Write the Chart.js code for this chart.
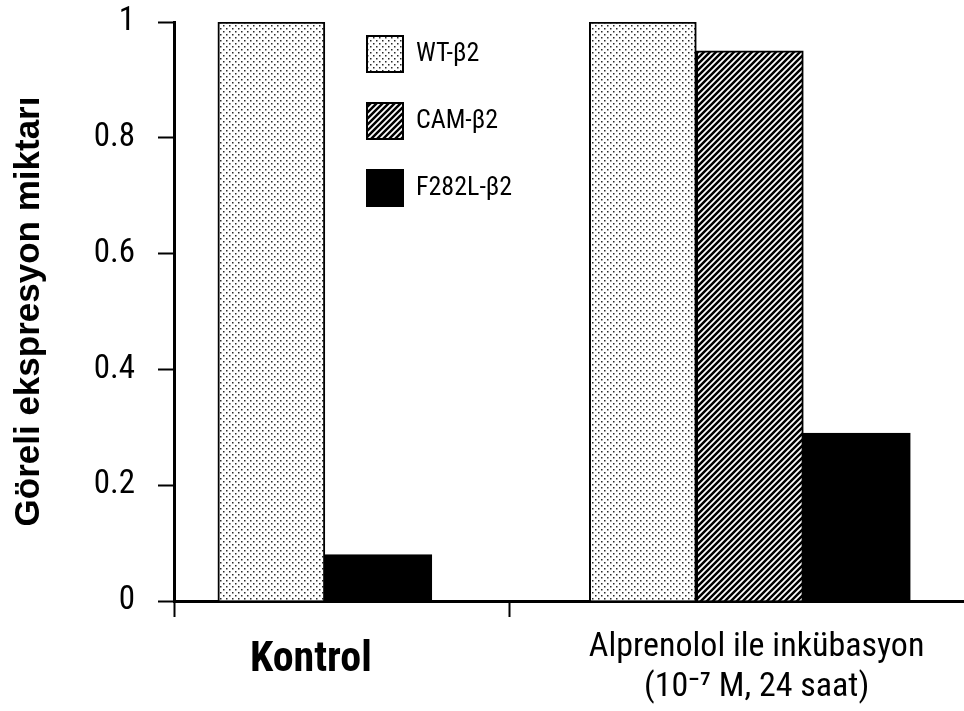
<!DOCTYPE html>
<html lang="tr">
<head>
    <meta charset="UTF-8">
    <title>Göreli ekspresyon miktarı</title>
    <style>
        html, body {
            margin: 0;
            padding: 0;
            background: #fff;
            overflow: hidden;
        }
    </style>
</head>
<body>
    <canvas id="expChart" width="964" height="711"></canvas>

    <script src="https://cdn.jsdelivr.net/npm/chart.js"></script>

    <script>
        // Groups on the x axis (second one is two lines)
        const groups = ['Kontrol', ['Alprenolol ile inkübasyon', '(10⁻⁷ M, 24 saat)']];

        // Relative expression, one value per group (null = no bar)
        const wtValues = [1, 1];
        const camValues = [null, 0.95];
        const f282lValues = [0.08, 0.29];

        const seriesNames = ['WT-β2', 'CAM-β2', 'F282L-β2'];
        const yTicks = [0, 0.2, 0.4, 0.6, 0.8, 1];

        const narrow = "'Roboto Condensed', 'Liberation Sans', sans-serif";
        const wide = "'Liberation Sans', Arial, sans-serif";

        // Fill patterns like the old Excel ones
        function dotPattern() {
            const c = document.createElement('canvas');
            c.width = 6; c.height = 6;
            const g = c.getContext('2d');
            g.fillStyle = '#fff';
            g.fillRect(0, 0, 6, 6);
            g.fillStyle = '#2a2a2a';
            g.fillRect(1, 1, 1.5, 1.5);
            g.fillRect(4, 4, 1.5, 1.5);
            return g.createPattern(c, 'repeat');
        }

        function stripePattern() {
            const c = document.createElement('canvas');
            c.width = 6; c.height = 6;
            const g = c.getContext('2d');
            g.fillStyle = '#fff';
            g.fillRect(0, 0, 6, 6);
            g.strokeStyle = '#000';
            g.lineWidth = 2.5;
            g.beginPath();
            g.moveTo(-1, 7); g.lineTo(7, -1);
            g.moveTo(-4, 4); g.lineTo(4, -4);
            g.moveTo(2, 10); g.lineTo(10, 2);
            g.stroke();
            return g.createPattern(c, 'repeat');
        }

        // group i sits at x = i on a linear axis
        function toPoints(vals) {
            return vals.map((v, i) => ({ x: i, y: v }));
        }

        // move the built-in legend into the empty space above the Kontrol group
        const legendSpot = {
            id: 'legendSpot',
            afterLayout(chart) {
                const lg = chart.legend;
                const area = chart.chartArea;
                const pad = lg.options.labels.padding;
                lg.left = area.left + 193 - pad;
                lg.top = area.top + 14 - pad;
            }
        };

        // x axis layout (groups at 0 and 1)
        const xMin = -0.355;
        const xMax = 1.504;
        const groupEdge = 0.435;
        const labelAt = [-0.033, 1.016];

        Chart.defaults.color = '#000';
        Chart.defaults.font.family = narrow;

        window.onload = function() {
            const ctx = document.getElementById('expChart').getContext('2d');
            new Chart(ctx, {
                type: 'bar',
                data: {
                    datasets: [{
                        label: seriesNames[0],
                        data: toPoints(wtValues),
                        backgroundColor: dotPattern(),
                        borderColor: '#000',
                        borderWidth: 2
                    }, {
                        label: seriesNames[1],
                        data: toPoints(camValues),
                        backgroundColor: stripePattern(),
                        borderColor: '#000',
                        borderWidth: 2
                    }, {
                        label: seriesNames[2],
                        data: toPoints(f282lValues),
                        backgroundColor: '#000',
                        borderColor: '#000',
                        borderWidth: 2
                    }]
                },
                plugins: [legendSpot],
                options: {
                    responsive: false,
                    animation: false,
                    devicePixelRatio: 1,
                    skipNull: true,
                    barThickness: 107,
                    layout: { padding: { top: 22, right: 0, bottom: 0, left: 0 } },
                    plugins: {
                        tooltip: { enabled: false },
                        legend: {
                            position: 'chartArea',
                            align: 'start',
                            labels: {
                                boxWidth: 36,
                                boxHeight: 36,
                                padding: 31,
                                color: '#000',
                                font: { family: narrow, size: 26 }
                            }
                        }
                    },
                    scales: {
                        x: {
                            type: 'linear',
                            offset: false,
                            min: xMin,
                            max: xMax,
                            afterBuildTicks(scale) {
                                scale.ticks = [xMin, labelAt[0], groupEdge, labelAt[1]].map(v => ({ value: v }));
                            },
                            afterFit(scale) {
                                scale.height = 110;
                            },
                            border: { color: '#000', width: 3 },
                            grid: {
                                offset: false,
                                drawOnChartArea: false,
                                tickLength: 16,
                                tickWidth: 2,
                                tickColor: c => (c.tick && labelAt.includes(c.tick.value)) ? 'rgba(0,0,0,0)' : '#000'
                            },
                            ticks: {
                                autoSkip: false,
                                maxRotation: 0,
                                minRotation: 0,
                                padding: 10,
                                color: '#000',
                                callback: v => v === labelAt[0] ? groups[0] : (v === labelAt[1] ? groups[1] : ''),
                                font: c => (c.tick && c.tick.value === labelAt[0])
                                    ? { family: narrow, size: 42, weight: 'bold', lineHeight: 1.6 }
                                    : { family: narrow, size: 34, lineHeight: 1.19 }
                            }
                        },
                        y: {
                            min: 0,
                            max: 1,
                            afterBuildTicks(scale) {
                                scale.ticks = yTicks.map(v => ({ value: v }));
                            },
                            afterFit(scale) {
                                scale.width = 174;
                                scale.paddingTop = 0;
                                scale.paddingBottom = 0;
                            },
                            border: { color: '#000', width: 3 },
                            grid: {
                                drawOnChartArea: false,
                                tickLength: 16,
                                tickWidth: 2,
                                tickColor: '#000'
                            },
                            ticks: {
                                padding: 23,
                                color: '#000',
                                font: { family: narrow, size: 33 },
                                callback: v => String(v)
                            },
                            title: {
                                display: true,
                                text: 'Göreli ekspresyon miktarı',
                                color: '#000',
                                font: { family: wide, size: 35, weight: 'bold' },
                                padding: { top: 8, bottom: 0 }
                            }
                        }
                    }
                }
            });
        };
    </script>
</body>
</html>
